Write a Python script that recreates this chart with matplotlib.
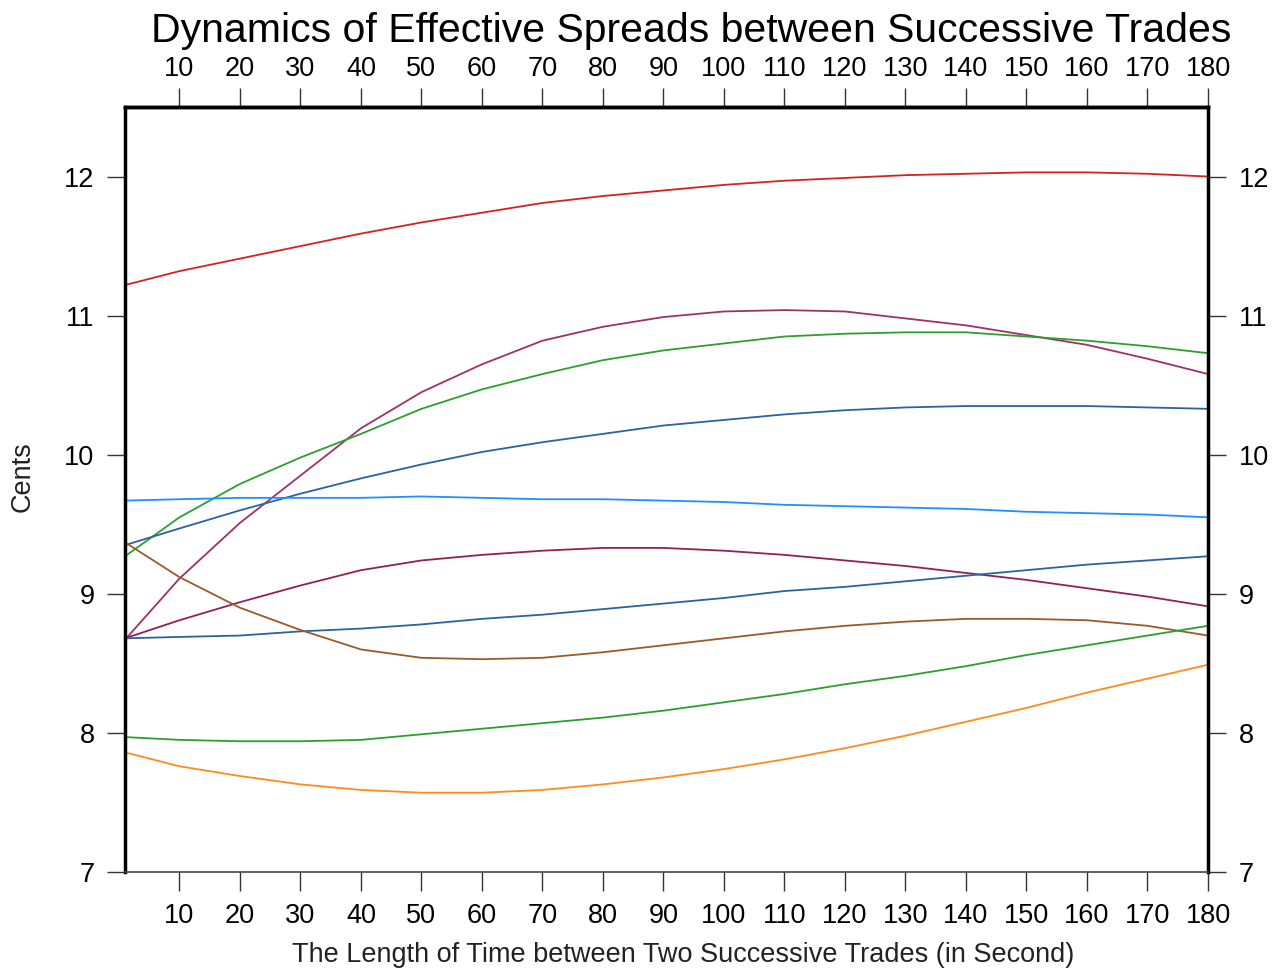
import matplotlib
matplotlib.use("Agg")
import matplotlib.pyplot as plt

plt.rcParams['font.family'] = ['Liberation Sans', 'DejaVu Sans']

# seconds between trades
seconds = [1, 10, 20, 30, 40, 50, 60, 70, 80, 90, 100, 110, 120, 130, 140, 150, 160, 170, 180]

# effective spread curves (cents)
red_curve = [11.22, 11.32, 11.41, 11.50, 11.59, 11.67, 11.74, 11.81, 11.86, 11.90,
             11.94, 11.97, 11.99, 12.01, 12.02, 12.03, 12.03, 12.02, 12.00]
purple_high = [8.67, 9.11, 9.51, 9.85, 10.19, 10.45, 10.65, 10.82, 10.92, 10.99,
               11.03, 11.04, 11.03, 10.98, 10.93, 10.86, 10.79, 10.69, 10.58]
green_high = [9.27, 9.55, 9.79, 9.98, 10.15, 10.33, 10.47, 10.58, 10.68, 10.75,
              10.80, 10.85, 10.87, 10.88, 10.88, 10.85, 10.82, 10.78, 10.73]
blue_high = [9.35, 9.47, 9.60, 9.72, 9.83, 9.93, 10.02, 10.09, 10.15, 10.21,
             10.25, 10.29, 10.32, 10.34, 10.35, 10.35, 10.35, 10.34, 10.33]
light_blue = [9.67, 9.68, 9.69, 9.69, 9.69, 9.70, 9.69, 9.68, 9.68, 9.67,
              9.66, 9.64, 9.63, 9.62, 9.61, 9.59, 9.58, 9.57, 9.55]
purple_low = [8.68, 8.81, 8.94, 9.06, 9.17, 9.24, 9.28, 9.31, 9.33, 9.33,
              9.31, 9.28, 9.24, 9.20, 9.15, 9.10, 9.04, 8.98, 8.91]
blue_low = [8.68, 8.69, 8.70, 8.73, 8.75, 8.78, 8.82, 8.85, 8.89, 8.93,
            8.97, 9.02, 9.05, 9.09, 9.13, 9.17, 9.21, 9.24, 9.27]
brown_curve = [9.37, 9.12, 8.90, 8.74, 8.60, 8.54, 8.53, 8.54, 8.58, 8.63,
               8.68, 8.73, 8.77, 8.80, 8.82, 8.82, 8.81, 8.77, 8.70]
green_low = [7.97, 7.95, 7.94, 7.94, 7.95, 7.99, 8.03, 8.07, 8.11, 8.16,
             8.22, 8.28, 8.35, 8.41, 8.48, 8.56, 8.63, 8.70, 8.77]
orange_curve = [7.86, 7.76, 7.69, 7.63, 7.59, 7.57, 7.57, 7.59, 7.63, 7.68,
                7.74, 7.81, 7.89, 7.98, 8.08, 8.18, 8.29, 8.39, 8.49]

x_ticks = list(range(10, 181, 10))
y_ticks = list(range(7, 13))

series = [
    (red_curve, '#d42222'),
    (purple_high, '#a0306a'),
    (green_high, '#2ca02c'),
    (blue_high, '#2b62a0'),
    (light_blue, '#1e90ff'),
    (purple_low, '#961e58'),
    (blue_low, '#2b62a0'),
    (brown_curve, '#9c5a28'),
    (green_low, '#2ca02c'),
    (orange_curve, '#ff8c1a'),
]

fig = plt.figure(figsize=(12.72, 9.74), dpi=100)
ax = fig.add_axes([125 / 1272, 102 / 974, (1208 - 125) / 1272, (872 - 107) / 974])

for values, color in series:
    ax.plot(seconds, values, color=color, lw=1.3)

ax.set_xlim(1, 180)
ax.set_ylim(7, 12.5)
ax.set_xticks(x_ticks)
ax.set_yticks(y_ticks)

tick_color = '#333333'
ax.tick_params(axis='x', direction='out', length=14, width=1, color=tick_color,
               labelsize=19.5, pad=8)
ax.tick_params(axis='y', direction='out', length=13, width=1, color=tick_color,
               labelsize=19.5, right=True, labelright=True, pad=9)

# top axis repeats the seconds scale with its own spacing
top = ax.secondary_xaxis('top')
top.set_xticks(x_ticks)
top.tick_params(direction='out', length=14, width=1, color=tick_color,
                labelsize=19.5, pad=4)
top.spines['top'].set_linewidth(2.5)

for side in ['left', 'right', 'top']:
    ax.spines[side].set_linewidth(2.5)
    ax.spines[side].set_color('black')
ax.spines['bottom'].set_linewidth(1.2)
ax.spines['bottom'].set_color('#444444')

fig.text(683 / 1272, 1 - 955 / 974,
         'The Length of Time between Two Successive Trades (in Second)',
         fontsize=19.5, ha='center', va='center', color='#222222')
fig.text(23 / 1272, 1 - 477 / 974, 'Cents', fontsize=19.5, rotation=90,
         ha='center', va='center', color='#222222')
fig.text(691 / 1272, 1 - 31 / 974,
         'Dynamics of Effective Spreads between Successive Trades',
         fontsize=29.5, ha='center', va='center')

fig.savefig('out.png', dpi=100)
